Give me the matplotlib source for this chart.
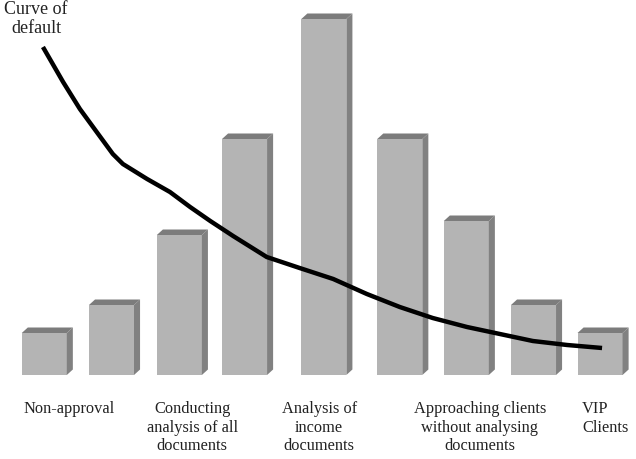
import matplotlib
matplotlib.use("Agg")
import matplotlib.pyplot as plt
from matplotlib.patches import Polygon

# bar data (arbitrary units)
bar_pos    = [0.0, 1.0, 2.01, 2.98, 4.16, 5.29, 6.28, 7.28, 8.27]
bar_values = [4.2, 7.0, 14.0, 23.6, 35.6, 23.6, 15.4, 7.0, 4.2]

# curve of default
curve_x = [-0.02, 0.28, 0.53, 0.78, 1.02, 1.17, 1.53, 1.87, 2.17, 2.47, 2.81,
           3.31, 3.80, 4.30, 4.80, 5.29, 5.78, 6.29, 6.78, 7.27, 7.78, 8.30]
curve_y = [32.8, 29.3, 26.6, 24.3, 22.1, 21.1, 19.6, 18.3, 16.8, 15.4, 13.9,
           11.8, 10.7, 9.6, 8.1, 6.8, 5.7, 4.8, 4.1, 3.4, 3.0, 2.7]

# category labels
labels = ["Non-approval",
          "Conducting\nanalysis of all\ndocuments",
          "Analysis of\nincome\ndocuments",
          "Approaching clients\nwithout analysing\ndocuments",
          "VIP\nClients"]
label_x  = [0.37, 2.20, 4.09, 6.48, 8.0]
label_ha = ["center", "center", "center", "center", "left"]

plt.rcParams["font.family"] = ["Liberation Serif", "DejaVu Serif"]

fig = plt.figure(figsize=(6.36, 4.6), dpi=100)
ax = fig.add_axes([0, 0, 1, 1])
ax.set_xlim(-0.659, 8.805)
ax.set_ylim(-8.4, 37.6)
ax.axis("off")

front = "#b4b4b4"
side  = "#818181"
top   = "#7c7c7c"
w  = 0.67
dx = 0.09
dy = 0.55

for x, h in zip(bar_pos, bar_values):
    ax.bar(x, h, width=w, color=front, edgecolor="none", zorder=2)
    r = x + w / 2
    l = x - w / 2
    ax.add_patch(Polygon([(r, 0), (r + dx, dy), (r + dx, h + dy), (r, h)],
                         closed=True, facecolor=side, edgecolor="none", zorder=2))
    ax.add_patch(Polygon([(l, h), (l + dx, h + dy), (r + dx, h + dy), (r, h)],
                         closed=True, facecolor=top, edgecolor="none", zorder=2))

ax.plot(curve_x, curve_y, color="black", lw=3.2, solid_capstyle="butt",
        solid_joinstyle="round", zorder=3)

for txt, x, ha in zip(labels, label_x, label_ha):
    ax.text(x, -2.5, txt, ha=ha, va="top", fontsize=11.8, color="#222222",
            linespacing=1.22)

ax.text(-0.12, 37.5, "Curve of\ndefault", ha="center", va="top",
        fontsize=13, color="#222222", linespacing=1.15)

fig.savefig("out.png", dpi=100)
